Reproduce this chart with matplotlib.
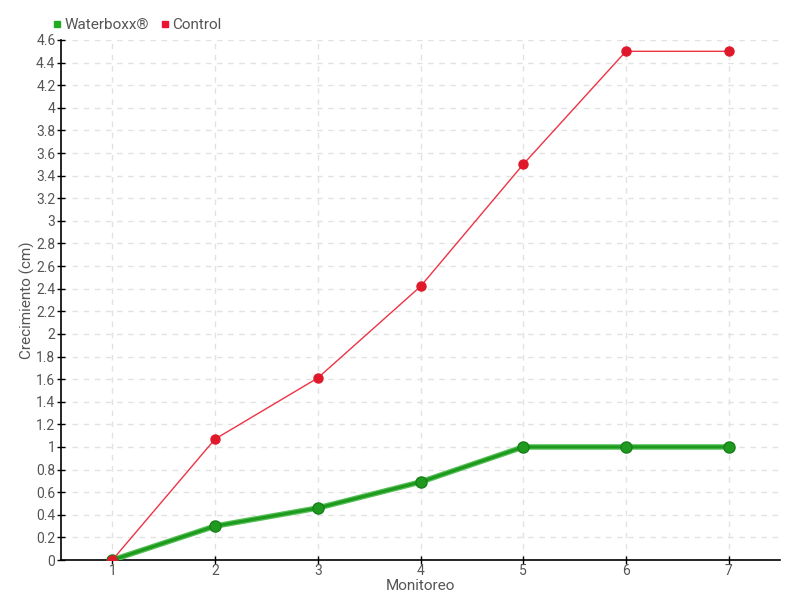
import matplotlib
matplotlib.use("Agg")
import matplotlib.pyplot as plt
from matplotlib.ticker import FuncFormatter, MultipleLocator
from matplotlib.lines import Line2D

monitoreo = [1, 2, 3, 4, 5, 6, 7]
waterboxx = [0, 0.30, 0.46, 0.69, 1.0, 1.0, 1.0]
control = [0, 1.07, 1.61, 2.42, 3.5, 4.5, 4.5]

plt.rcParams['font.family'] = ['Roboto', 'DejaVu Sans']
txt = '#555555'
fs = 11

fig = plt.figure(figsize=(8, 6), dpi=100)
ax = fig.add_axes([61/800, 40/600, 719/800, 520/600])

ax.plot(monitoreo, control, color='#ee3344', lw=1, marker='o', ms=6.5,
        mfc='#e0192a', mec='#e0192a', zorder=4)
ax.plot(monitoreo, waterboxx, color='#55c055', lw=4, zorder=3, solid_capstyle='round')
ax.plot(monitoreo, waterboxx, color='#1e9a1e', lw=2.2, marker='o', ms=8,
        mfc='#1f9a1f', mec='#17801a', zorder=3)

ax.set_xlim(0.5, 7.5)
ax.set_ylim(0, 4.6)
ax.set_xticks(monitoreo)
ax.yaxis.set_major_locator(MultipleLocator(0.2))
ax.yaxis.set_major_formatter(FuncFormatter(lambda v, p: f"{round(v, 1):g}"))

for s in ['top', 'right']:
    ax.spines[s].set_visible(False)
for s in ['left', 'bottom']:
    ax.spines[s].set_color('black')
    ax.spines[s].set_linewidth(1.2)

ax.tick_params(direction='inout', length=6, width=1, colors='black',
               labelcolor=txt, labelsize=10, pad=1)
ax.tick_params(axis='x', pad=0)
ax.grid(True, color='#e2e2e2', ls=(0, (4, 4)), lw=1)
ax.set_axisbelow(True)

ax.set_xlabel('Monitoreo', color=txt, fontsize=fs)
ax.xaxis.set_label_coords(0.5, -19/520)
ax.set_ylabel('Crecimiento (cm)', color=txt, fontsize=fs)
ax.yaxis.set_label_coords(-26/719, 0.5)

handles = [Line2D([], [], ls='none', marker='s', ms=5, mfc='#22aa22', mec='#22aa22'),
           Line2D([], [], ls='none', marker='s', ms=5, mfc='#ee1133', mec='#ee1133')]
fig.legend(handles, ['Waterboxx®', 'Control'], loc='upper left',
           bbox_to_anchor=(45/800, 1 - 12/600), ncol=2, frameon=False,
           fontsize=fs, labelcolor=txt, handletextpad=0.1, columnspacing=0.6,
           handlelength=0.8, borderaxespad=0)

fig.savefig('out.png', dpi=100)
